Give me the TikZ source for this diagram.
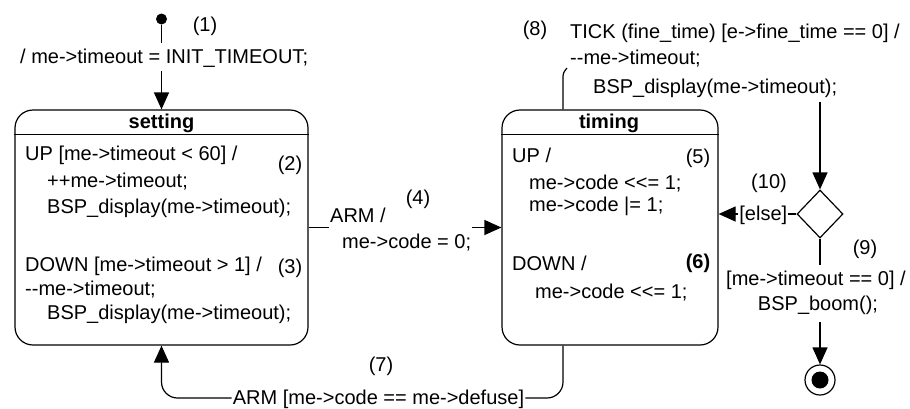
\documentclass[tikz,border=0pt]{standalone}
\usepackage{fontspec}
\setmainfont{Liberation Sans}[Ligatures=TeXOff]
\usetikzlibrary{arrows.meta,shapes.geometric}
\begin{document}
\begin{tikzpicture}[x=1pt,y=-1pt,
  line/.style={line width=1.2pt},
  arrow/.style={line width=1.2pt,-{Triangle[length=17pt,width=15pt]}},
  statebox/.style={draw,line width=1.2pt,rounded corners=18pt,minimum height=235pt,inner sep=0pt},
  lbl/.style={font=\fontsize{20}{24}\selectfont,inner xsep=1pt,inner ysep=4pt,text height=16pt,text depth=4pt},
  title/.style={lbl,font=\fontsize{20}{24}\selectfont\bfseries},
  num/.style={lbl,anchor=base},
  txt/.style={lbl,anchor=base west},
]
\useasboundingbox (0,0) rectangle (910,408);

% ---- states ----
\node[statebox,minimum width=293pt] (setting) at (161.5,227.5) {};
\node[statebox,minimum width=216pt] (timing) at (610,227.5) {};
\draw[line] ([yshift=-25pt]setting.north west) -- ([yshift=-25pt]setting.north east);
\draw[line] ([yshift=-25pt]timing.north west) -- ([yshift=-25pt]timing.north east);
\node[title,anchor=base] (settingname) at (161.5,128) {setting};
\node[title,anchor=base] (timingname) at (609,128) {timing};

% internal transitions of "setting"
\node[txt] (s1) at (24,160) {UP [me->timeout < 60] /};
\node[txt] (s2) at (46,187) {++me->timeout;};
\node[txt] (s3) at (46,213) {BSP\_display(me->timeout);};
\node[txt] (s4) at (24,271) {DOWN [me->timeout > 1] /};
\node[txt] (s5) at (24,295) {--me->timeout;};
\node[txt] (s6) at (46,319) {BSP\_display(me->timeout);};
\node[num] (n2) at (290,170) {(2)};
\node[num] (n3) at (290,273) {(3)};

% internal transitions of "timing"
\node[txt] (t1) at (511,162) {UP /};
\node[txt] (t2) at (528,189) {me->code <<= 1;};
\node[txt] (t3) at (528,211) {me->code |= 1;};
\node[txt] (t4) at (511,270) {DOWN /};
\node[txt] (t5) at (534,298) {me->code <<= 1;};
\node[num] (n5) at (698,163) {(5)};
\node[num,font=\fontsize{20}{24}\selectfont\bfseries] (n6) at (698,268) {(6)};

% ---- initial transition ----
\node[circle,fill,inner sep=0pt,minimum size=11pt] (init) at (161.5,19) {};
\node[num] (n1) at (205,31) {(1)};
\node[txt] (initlbl) at (19,63) {/ me->timeout = INIT\_TIMEOUT;};
\draw[line] (init) -- (init |- initlbl.north);
\draw[arrow] (init |- initlbl.south) -- (setting.north);

% ---- ARM: setting -> timing ----
\node[txt] (arm4) at (329,222) {ARM /};
\node[txt] (code4) at (341,248) {me->code = 0;};
\node[num] (n4) at (418,204) {(4)};
\draw[line] (setting.east) -- (setting.east -| arm4.west);
\draw[arrow] (timing.west -| code4.east) -- (timing.west);

% ---- TICK from timing to the choice point ----
\node[txt] (tick8) at (569,38) {TICK (fine\_time) [e->fine\_time == 0] /};
\node[txt] (tick8b) at (569,64) {--me->timeout;};
\node[txt] (tick8c) at (592,93) {BSP\_display(me->timeout);};
\node[num] (n8) at (535,35) {(8)};
\coordinate (tport) at (563,80);
\coordinate (tickin) at (567,68);
\coordinate (tickout) at (820,102);
\draw[line] (tport |- timing.north) -- (tport) .. controls (563,73) .. (tickin);

\node[diamond,draw,line width=1.2pt,inner sep=0pt,minimum width=46pt,minimum height=48pt] (choice) at (820,214) {};
\draw[arrow] (tickout) -- (choice.north);

% [else] branch back to timing
\node[lbl,anchor=east] (else) at ([xshift=-8pt]choice.west) {[else]};
\node[num] (n10) at (769,188) {(10)};
\draw[line] (choice.west) -- (else.east);
\draw[arrow] (else.west) -- (else.west -| timing.east);

% timeout branch to the final state
\node[lbl,anchor=base] (guard9) at (816,285) {[me->timeout == 0] /};
\node[lbl,anchor=base] (boom9) at (818,310) {BSP\_boom();};
\node[num] (n9) at (865,254) {(9)};
\node[circle,draw,line width=1.2pt,minimum size=30pt,inner sep=0pt] (final) at (820,380) {};
\node[circle,fill,minimum size=17pt,inner sep=0pt] (finaldot) at (final) {};
\draw[line] (choice.south) -- (choice.south |- guard9.north);
\draw[arrow] ([yshift=-4pt]boom9.south -| choice.south) -- (final.north);

% ---- ARM with the right code: timing -> setting ----
\node[lbl,anchor=base] (arm7) at (378.5,404) {ARM [me->code == me->defuse]};
\node[num] (n7) at (381,371) {(7)};
\draw[line,rounded corners=16pt] (tport |- timing.south) -- (tport |- arm7.east) -- (arm7.east);
\draw[arrow,rounded corners=16pt] (arm7.west) -- (arm7.west -| setting.south) -- (setting.south);
\end{tikzpicture}
\end{document}
